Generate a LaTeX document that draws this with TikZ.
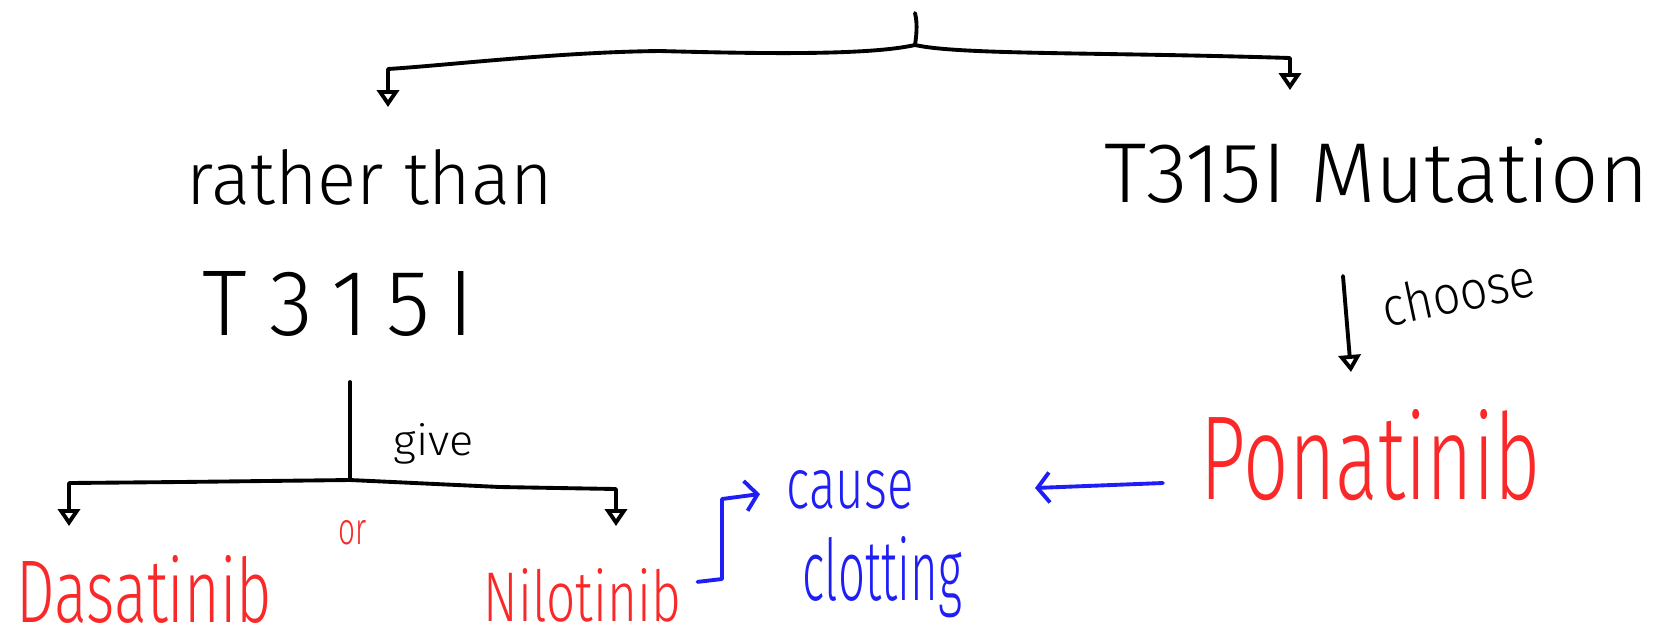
\documentclass[tikz,border=0pt]{standalone}
\usepackage{fontspec}
\setmainfont{Fira Sans Light}
\usetikzlibrary{arrows.meta}
\definecolor{inkred}{RGB}{250,40,40}
\definecolor{inkblue}{RGB}{30,30,245}
% handwritten word squeezed into a box of given width and height (cm)
\newcommand\ink[3]{\resizebox{#1cm}{#2cm}{#3}}
\begin{document}
\begin{tikzpicture}[x=0.01cm,y=-0.01cm,
  pen/.style={line width=1.1pt, line cap=round, line join=round},
  tri/.style={pen, -{Triangle[open,length=0.17cm,width=0.22cm]}},
  barb/.style={pen, inkblue, -{Straight Barb[length=0.12cm,width=0.3cm]}},
  word/.style={inner sep=0pt, anchor=base west},
]
\useasboundingbox[fill=white] (0,0) rectangle (1665,641);

% texts
\node[word] (rt)   at (186,204)  {\ink{3.66}{0.55}{rather than}};
\node[word] (mut)  at (1104,202) {\ink{5.44}{0.64}{T315I Mutation}};
\node[word] (t315) at (202,335)  {\ink{2.71}{0.64}{T\hspace{0.25em}3\hspace{0.2em}1\hspace{0.2em}5\hspace{0.2em}I}};
\node[word] (give) at (393,455)  {\ink{0.80}{0.32}{give}};
\node[word, text=inkred] (or)  at (338,544) {\ink{0.28}{0.24}{or}};
\node[word, text=inkred] (das) at (16,622)  {\ink{2.55}{0.67}{Dasatinib}};
\node[word, text=inkred] (nil) at (483,621) {\ink{1.97}{0.53}{Nilotinib}};
\node[word, text=inkblue] (cause) at (786,508) {\ink{1.27}{0.38}{cause}};
\node[word, text=inkblue] (clot)  at (802,600) {\ink{1.59}{0.64}{clotting}};
\node[word, text=inkred] (pon) at (1200,499) {\ink{3.40}{0.90}{Ponatinib}};
\node[inner sep=0pt, rotate=12] (choose) at (1458,292) {\ink{1.55}{0.40}{choose}};

% top split
\coordinate (top) at (915,13);
\coordinate (j1)  at (915,45);
\draw[pen] (top) .. controls (918,25) and (916,38) .. (j1);
\draw[tri] (j1) .. controls (870,55) and (770,54) .. (660,51)
  .. controls (560,52) and (450,65) .. (388,69) -- (388,107);
\draw[tri] (j1) .. controls (960,55) and (1100,52) .. (1290,58) -- (1290,90);

% give split
\coordinate (g0) at (350,382);
\coordinate (j2) at (350,480);
\draw[pen] (g0) -- (j2);
\draw[tri] (j2) -- (180,482) -- (69,483) -- (69,526);
\draw[tri] (j2) -- (500,487) -- (616,489) -- (616,526);

% choose arrow
\coordinate (ca) at (1343,276);
\coordinate (cb) at (1351,372);
\draw[tri] (ca) -- (cb);

% blue links
\draw[barb] (nil.east) ++(16,-13) -- (722,579) -- (722,499) -- (760,494);
\coordinate (pa) at (1163,483);
\coordinate (pb) at (1035,488);
\draw[barb] (pa) -- (pb);
\end{tikzpicture}
\end{document}
